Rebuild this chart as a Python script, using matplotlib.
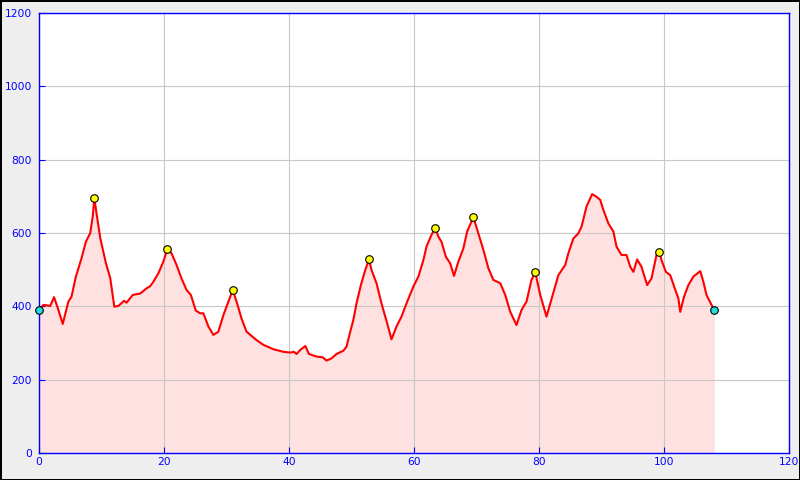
import matplotlib
matplotlib.use('Agg')
import matplotlib.pyplot as plt

# distance (km) / elevation (m)
dist = [0.0, 0.7, 1.8, 2.4, 2.9, 3.8, 4.7, 5.2, 5.9, 6.8, 7.5, 8.2, 8.6, 8.85, 9.2, 9.8,
        10.7, 11.4, 12.05, 12.7, 13.6, 14.0, 15.0, 16.2, 17.2, 17.8, 18.3, 19.1, 19.9,
        20.5, 21.2, 22.0, 22.8, 23.6, 24.3, 25.1, 25.8, 26.3, 27.1, 27.9, 28.7, 29.5,
        30.3, 31.0, 31.7, 32.4, 33.2, 34.8, 35.9, 37.5, 39.1, 40.2, 40.8, 41.2, 41.8,
        42.6, 43.2, 44.4, 45.4, 46.0, 46.8, 47.6, 48.7, 49.2, 49.8, 50.3, 50.8, 51.5,
        52.2, 52.8, 53.2, 54.0, 54.8, 55.7, 56.4, 57.2, 58.0, 58.8, 59.9, 60.7, 61.5,
        62.0, 62.8, 63.4, 63.9, 64.4, 65.1, 65.8, 66.4, 67.1, 67.9, 68.5, 69.5, 70.3,
        71.1, 71.9, 72.7, 73.8, 74.6, 75.4, 76.4, 77.2, 78.0, 78.8, 79.4, 80.2, 81.2,
        82.2, 83.1, 84.2, 84.7, 85.5, 86.3, 86.8, 87.6, 88.5, 89.2, 89.8, 90.3, 91.1,
        91.9, 92.4, 93.2, 94.0, 94.6, 95.1, 95.7, 96.4, 97.3, 98.0, 98.8, 99.25, 99.6,
        100.3, 101.0, 101.8, 102.3, 102.6, 103.2, 103.9, 104.7, 105.8, 106.3, 106.8,
        107.6, 108.05]
elev = [390, 404, 401, 425, 401, 352, 413, 426, 481, 531, 576, 600, 645, 695, 654, 586,
        518, 477, 399, 401, 415, 410, 431, 435, 449, 455, 467, 490, 522,
        555, 545, 513, 476, 445, 431, 388, 381, 381, 345, 322, 331, 376,
        413, 445, 408, 367, 331, 308, 295, 283, 276, 274, 276, 270, 281,
        292, 270, 263, 261, 252, 258, 270, 279, 290, 331, 363, 408, 458,
        499, 528, 499, 463, 408, 354, 310, 345, 372, 408, 454, 481, 526,
        563, 595, 613, 590, 576, 535, 517, 483, 522, 558, 604, 643, 599,
        554, 504, 472, 463, 431, 385, 349, 390, 413, 472, 493, 431, 372,
        431, 485, 513, 545, 585, 599, 617, 672, 706, 699, 690, 663, 626,
        604, 563, 540, 540, 508, 494, 528, 508, 458, 476, 540, 549, 526,
        494, 485, 445, 422, 385, 426, 458, 481, 496, 467, 431,
        404, 389]

peak_km = [8.85, 20.5, 31.0, 52.8, 63.4, 69.5, 79.4, 99.25]
peak_elev = [695, 555, 445, 528, 613, 643, 493, 549]
end_km = [0.0, 108.05]
end_elev = [390, 389]

xticks = [0, 20, 40, 60, 80, 100, 120]
yticks = [0, 200, 400, 600, 800, 1000, 1200]

fig = plt.figure(figsize=(8, 4.8), dpi=100)
fig.patch.set_facecolor('#eeeeee')
fig.patch.set_edgecolor('black')
fig.patch.set_linewidth(1)
ax = fig.add_axes([39/800, 27/480, 750/800, 440/480])
ax.set_facecolor('white')

ax.fill_between(dist, elev, 0, color='#ffe1e1', lw=0, zorder=1)
ax.set_axisbelow(False)
ax.grid(True, color='#c8c8c8', lw=0.8)
ax.plot(dist, elev, color='#ff0000', lw=1.5, zorder=3)
ax.scatter(peak_km, peak_elev, s=30, color='#ffff00', edgecolors='black', linewidths=0.8, zorder=6)
ax.scatter(end_km, end_elev, s=30, color='#22dddd', edgecolors='black', linewidths=0.8, zorder=6, clip_on=False)

ax.set_xlim(0, 120)
ax.set_ylim(0, 1200)
ax.set_xticks(xticks)
ax.set_yticks(yticks)
for s in ax.spines.values():
    s.set_color('#0000ff')
    s.set_linewidth(1)
    s.set_zorder(5)
ax.tick_params(direction='in', length=4, color='#0000ff', labelcolor='#0000ff', labelsize=7.7)
ax.tick_params(axis='y', pad=5)
ax.tick_params(axis='x', pad=3)

fig.savefig('out.png', dpi=100, facecolor=fig.get_facecolor(), edgecolor=fig.get_edgecolor())
